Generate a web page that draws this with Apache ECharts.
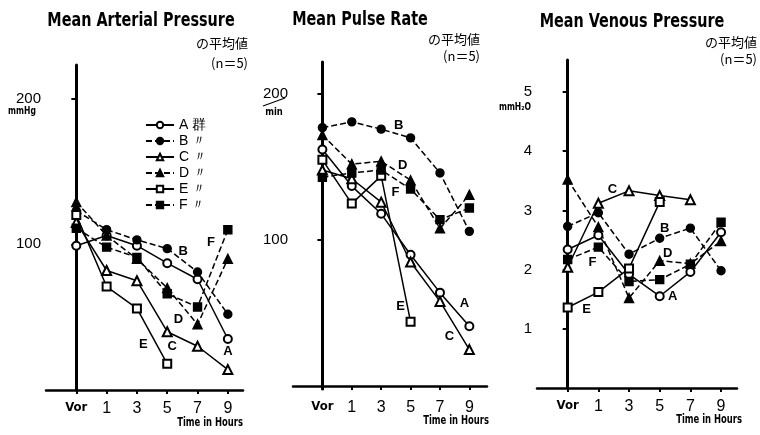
<!DOCTYPE html>
<html><head><meta charset="utf-8">
<script src="https://cdn.jsdelivr.net/npm/echarts@6/dist/echarts.min.js"></script>
<style>html,body{margin:0;padding:0;background:#fff}#c{width:760px;height:435px}</style>
</head><body><div id="c"></div>
<script>
// ---- data ----
const xLabels = ['Vor', '1', '3', '5', '7', '9'];
const groups = ['A', 'B', 'C', 'D', 'E', 'F'];
const arterialA = [99, 106, 99, 87, 76, 35];
const arterialB = [123, 110, 103, 97, 81, 52];
const arterialC = [115, 82, 75, 40, 30, 14];
const arterialD = [129, 106, 90, 70, 45, 90];
const arterialE = [120, 71, 56, 18, null, null];
const arterialF = [111, 98, 91, 66, 57, 110];
const pulseA = [162, 137, 118, 90, 64, 41];
const pulseB = [177, 181, 176, 170, 146, 106];
const pulseC = [148, 142, 126, 85, 58, 25];
const pulseD = [172, 152, 154, 141, 108, 131];
const pulseE = [155, 125, 144, 44, null, null];
const pulseF = [143, 146, 148, 135, 114, 122];
const venousA = [2.34, 2.58, 1.92, 1.55, 1.96, 2.63];
const venousB = [2.73, 2.96, 2.26, 2.53, 2.70, 1.98];
const venousC = [2.04, 3.12, 3.33, 3.25, 3.18, null];
const venousD = [3.52, 2.72, 1.52, 2.15, 2.10, 2.48];
const venousE = [1.36, 1.62, 2.02, 3.14, null, null];
const venousF = [2.17, 2.38, 1.80, 1.83, 2.09, 2.80];
const arterialTicks = [100, 200];
const pulseTicks = [100, 200];
const venousTicks = [1, 2, 3, 4, 5];

// ---- styles / layout (not data) ----
const panels = [
  {data: {A: arterialA, B: arterialB, C: arterialC, D: arterialD, E: arterialE, F: arterialF},
   ticks: arterialTicks, ymin: 0, ymax: 223, left: 46, width: 197, top: 65, height: 325, xmax: 5.5},
  {data: {A: pulseA, B: pulseB, C: pulseC, D: pulseD, E: pulseE, F: pulseF},
   ticks: pulseTicks, ymin: -2, ymax: 222, left: 293, width: 194, top: 62, height: 327, xmax: 5.6},
  {data: {A: venousA, B: venousB, C: venousC, D: venousD, E: venousE, F: venousF},
   ticks: venousTicks, ymin: 0, ymax: 5.54, left: 537, width: 200, top: 60, height: 328, xmax: 5.52}
];
const seriesStyle = {
  A: {symbol: 'emptyCircle', dashed: false, size: 8},
  B: {symbol: 'circle', dashed: true, size: 8},
  C: {symbol: 'emptyTriangle', dashed: false, size: 9},
  D: {symbol: 'triangle', dashed: true, size: 9},
  E: {symbol: 'emptyRect', dashed: false, size: 8},
  F: {symbol: 'rect', dashed: true, size: 8}
};
// letter annotations: [panel, group, pointIndex, dx, dy]
const notes = [
  [0, 'B', 3, 16, 3], [0, 'F', 5, -17, 13], [0, 'D', 4, -19, -5], [0, 'E', 3, -24, -19], [0, 'C', 3, 5, 15], [0, 'A', 5, 0, 12],
  [1, 'B', 3, -12, -12], [1, 'D', 3, -8, -15], [1, 'F', 3, -15, 3], [1, 'E', 3, -10, -15], [1, 'A', 5, -5, -23], [1, 'C', 5, -20, -13],
  [2, 'C', 1, 14, -14], [2, 'B', 3, 5, -10], [2, 'D', 3, 8, -7], [2, 'F', 1, -6, 15], [2, 'A', 3, 13, 0], [2, 'E', 0, 19, 2]
];

const condensed = '"DejaVu Sans Condensed", "Liberation Sans Narrow", sans-serif';
const grid = [], xAxis = [], yAxis = [], series = [];
panels.forEach((p, pi) => {
  grid.push({left: p.left, width: p.width, top: p.top, height: p.height});
  xAxis.push({
    type: 'value', gridIndex: pi, min: -1, max: p.xmax,
    axisLine: {lineStyle: {color: '#000', width: 2.5}},
    axisTick: {customValues: [0, 1, 2, 3, 4, 5], length: 4, lineStyle: {color: '#000', width: 2}},
    axisLabel: {customValues: [0, 1, 2, 3, 4, 5], margin: 11,
      formatter: v => v === 0 ? '{v|Vor}' : '{n|' + xLabels[v] + '}',
      rich: {v: {fontFamily: condensed, fontWeight: 'bold', fontSize: 13, color: '#000'},
             n: {fontFamily: 'Liberation Sans', fontSize: 16, color: '#000'}}},
    splitLine: {show: false}
  });
  yAxis.push({
    type: 'value', gridIndex: pi, min: p.ymin, max: p.ymax,
    axisLine: {show: true, lineStyle: {color: '#000', width: 3}},
    axisTick: {customValues: p.ticks, length: 5, lineStyle: {color: '#000', width: 2}},
    axisLabel: {customValues: p.ticks, color: '#000', fontFamily: 'Liberation Sans', fontSize: 15, margin: 5},
    splitLine: {show: false}
  });
  groups.forEach(g => {
    const st = seriesStyle[g];
    const vals = p.data[g];
    const data = [];
    vals.forEach((v, i) => {
      if (v === null) return;
      const item = {value: [i, v]};
      notes.forEach(n => {
        if (n[0] === pi && n[1] === g && n[2] === i) {
          item.label = {show: true, position: 'inside', formatter: g, offset: [n[3], n[4]],
            color: '#000', fontFamily: 'Liberation Sans', fontWeight: 'bold', fontSize: 13};
        }
      });
      data.push(item);
    });
    series.push({
      name: g, type: 'line', xAxisIndex: pi, yAxisIndex: pi, data: data,
      symbol: st.symbol, symbolSize: st.size,
      lineStyle: {color: '#000', width: 1.5, type: st.dashed ? [6, 3] : 'solid'},
      itemStyle: {color: '#000', borderColor: '#000', borderWidth: 1.4},
      label: {show: false},
      emphasis: {disabled: true}
    });
  });
});

const titleFont = 'bold 20px ' + condensed;
const jpFont = '13px "Noto Sans CJK JP"';
const txt = (x, y, text, font, align, sx) => ({type: 'text', x: x, y: y, scaleX: sx || 1,
  style: {text: text, font: font, fill: '#000', textAlign: align || 'center', textVerticalAlign: 'middle'}});
const graphic = [
  txt(141, 21, 'Mean Arterial Pressure', titleFont, 'center', 0.8),
  txt(248, 43, 'の平均値', jpFont, 'right'),
  txt(248, 63, '(n＝5)', jpFont, 'right'),
  txt(360, 20, 'Mean Pulse Rate', titleFont, 'center', 0.8),
  txt(480, 39, 'の平均値', jpFont, 'right'),
  txt(480, 56, '(n＝5)', jpFont, 'right'),
  txt(632, 22, 'Mean Venous Pressure', titleFont, 'center', 0.8),
  txt(757, 42, 'の平均値', jpFont, 'right'),
  txt(757, 59, '(n＝5)', jpFont, 'right'),
  txt(22, 111, 'mmHg', 'bold 10px ' + condensed, 'center', 0.85),
  txt(274, 112, 'min', 'bold 11px ' + condensed, 'center', 0.85),
  {type: 'line', shape: {x1: 263, y1: 106, x2: 285, y2: 98}, style: {stroke: '#000', lineWidth: 1.2}},
  txt(515, 107, 'mmH₂O', 'bold 10px ' + condensed, 'center', 0.85),
  txt(243, 423, 'Time in Hours', 'bold 13px ' + condensed, 'right', 0.72),
  txt(489, 421, 'Time in Hours', 'bold 13px ' + condensed, 'right', 0.72),
  txt(742, 420, 'Time in Hours', 'bold 13px ' + condensed, 'right', 0.72)
];

const chart = echarts.init(document.getElementById('c'));
chart.setOption({
  animation: false,
  backgroundColor: '#fff',
  grid: grid, xAxis: xAxis, yAxis: yAxis, series: series,
  legend: {
    data: groups, orient: 'vertical', left: 140, top: 113,
    itemWidth: 28, itemHeight: 8, itemGap: 2, selectedMode: false,
    formatter: n => n === 'A' ? n + ' 群' : n + ' 〃',
    textStyle: {color: '#000', fontFamily: 'Liberation Sans', fontSize: 14, lineHeight: 12}
  },
  graphic: graphic
});
</script></body></html>
